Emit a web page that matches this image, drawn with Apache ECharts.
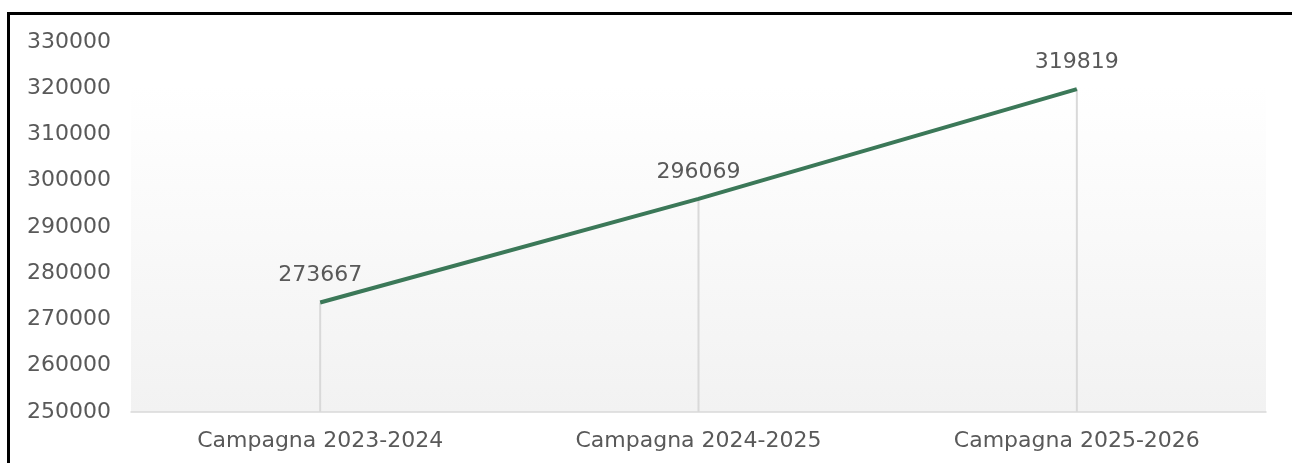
<!DOCTYPE html>
<html>
<head>
<meta charset="utf-8">
<script src="https://cdn.jsdelivr.net/npm/echarts@6/dist/echarts.min.js"></script>
<style>
  html, body { margin: 0; padding: 0; background: #fff; }
  #main { width: 1292px; height: 463px; position: relative; }
  #frame {
    position: absolute; left: 7px; top: 12px; width: 1300px; height: 470px;
    border-top: 3px solid #000; border-left: 3px solid #000;
    pointer-events: none;
  }
</style>
</head>
<body>
<div id="main"></div>
<div id="frame"></div>
<script>
// dati della serie
var categorie = ['Campagna 2023-2024', 'Campagna 2024-2025', 'Campagna 2025-2026'];
var valori = [273667, 296069, 319819];
var asseMin = 250000;
var asseMax = 330000;
var passo = 10000;

var chart = echarts.init(document.getElementById('main'));

var option = {
    animation: false,
    textStyle: { fontFamily: 'DejaVu Sans' },
    grid: {
        left: 131,
        right: 26,
        top: 42,
        bottom: 51,
        show: true,
        borderWidth: 0,
        backgroundColor: {
            type: 'linear', x: 0, y: 0, x2: 0, y2: 1,
            colorStops: [
                { offset: 0, color: '#ffffff' },
                { offset: 0.12, color: '#ffffff' },
                { offset: 1, color: '#f2f2f2' }
            ]
        }
    },
    xAxis: {
        type: 'category',
        data: categorie,
        boundaryGap: true,
        axisLine: { lineStyle: { color: '#d9d9d9', width: 1.5 } },
        axisTick: { show: false },
        axisLabel: { color: '#595959', fontSize: 22, margin: 18 }
    },
    yAxis: {
        type: 'value',
        min: asseMin,
        max: asseMax,
        interval: passo,
        axisLine: { show: false },
        axisTick: { show: false },
        splitLine: { show: false },
        axisLabel: {
            color: '#595959', fontSize: 22, align: 'left', margin: 104,
            formatter: function (v) { return String(v); }
        }
    },
    series: [
        {
            // linee di riferimento verticali + etichette dei valori
            type: 'bar',
            data: valori,
            barWidth: 2,
            silent: true,
            itemStyle: { color: '#d9d9d9' },
            label: {
                show: true,
                position: 'top',
                distance: 16,
                color: '#595959',
                fontSize: 22,
                formatter: function (p) { return String(p.value); }
            },
            z: 1
        },
        {
            type: 'line',
            data: valori,
            symbol: 'none',
            lineStyle: { color: '#3b7858', width: 4 },
            z: 3
        }
    ]
};

chart.setOption(option);
</script>
</body>
</html>
